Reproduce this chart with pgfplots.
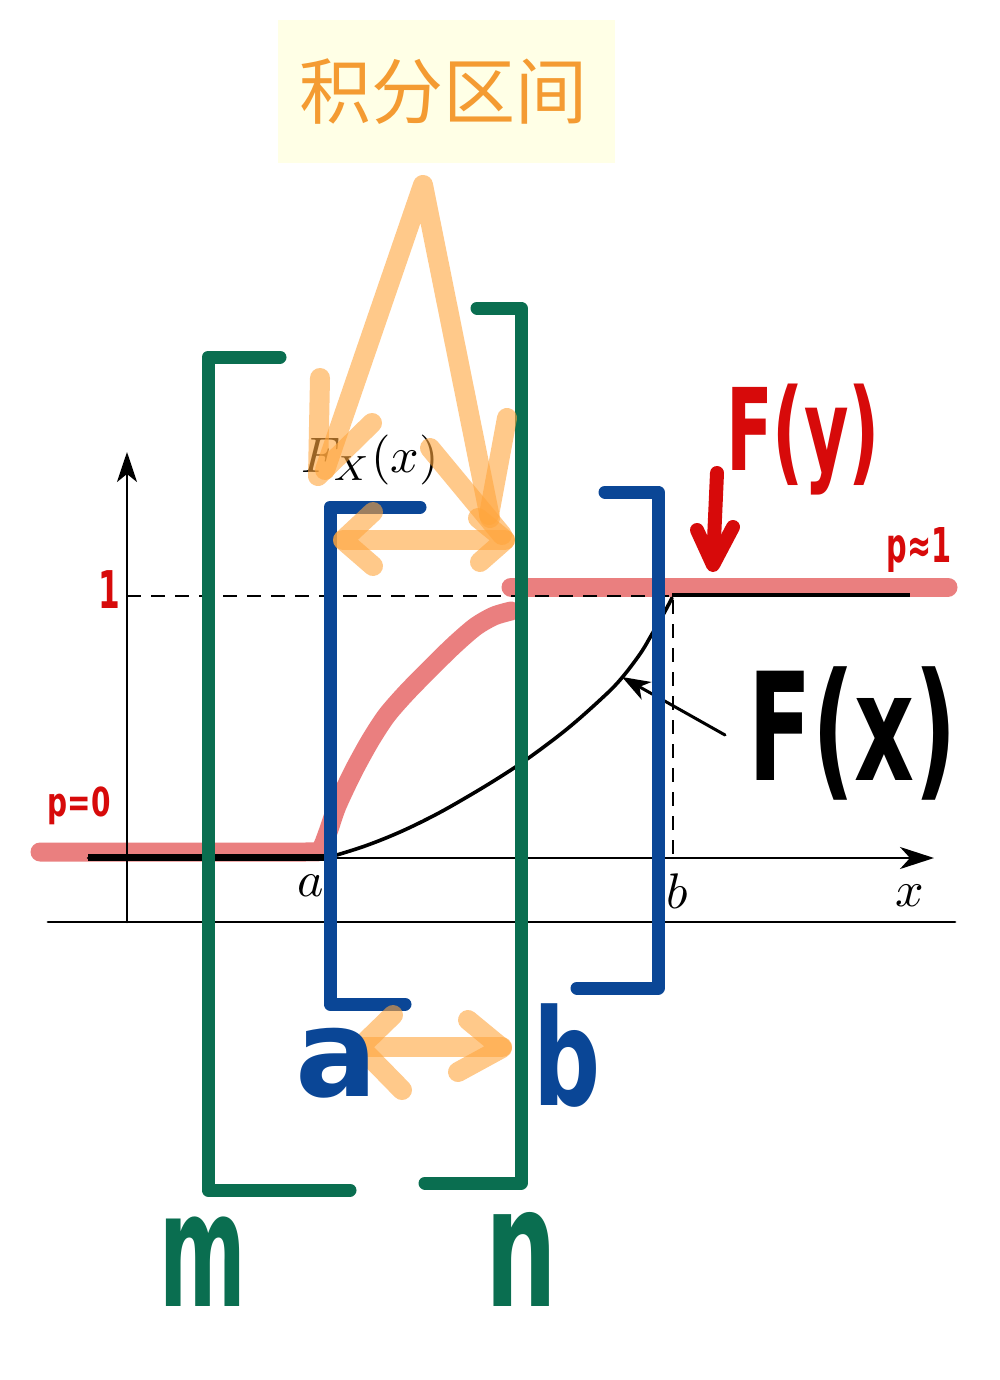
\documentclass[border=0pt]{standalone}
\usepackage{pgfplots}
\pgfplotsset{compat=1.18}
\usetikzlibrary{arrows.meta}
\usepackage{fontspec}
\newfontfamily\cjk{Noto Sans CJK SC}
\newfontfamily\hand{DejaVu Sans}
\definecolor{mgreen}{RGB}{10,110,80}
\definecolor{mblue}{RGB}{10,70,150}
\definecolor{mred}{RGB}{215,10,10}
\definecolor{band}{RGB}{222,50,50}
\definecolor{orng}{RGB}{255,165,60}
\definecolor{ttl}{RGB}{244,155,50}
\definecolor{ttlbg}{RGB}{255,255,230}
\begin{document}
\begin{tikzpicture}
\begin{axis}[width=500pt,height=690pt,scale only axis,
  xmin=0,xmax=1000,ymin=0,ymax=1380,y dir=reverse,
  hide axis,clip=false,no markers,
  every axis plot/.append style={line cap=round,line join=round}]
% background and title box
\addplot[fill=white,draw=none] coordinates {(0,0)(1000,0)(1000,1380)(0,1380)} -- cycle;
\addplot[fill=ttlbg,draw=none] coordinates {(278,20)(615,20)(615,163)(278,163)} -- cycle;
\node[text=ttl,font=\cjk\fontsize{36}{40}\selectfont] at (axis cs:443,92) {积分区间};
% red band F(y)
\addplot[band,opacity=0.62,line width=9.5pt,smooth,tension=0.45] coordinates {(40,852)(180,852)(305,852)(320,850)(328,832)(337,806)(353,772)(370,741)(387,715)(410,689)(450,649)(475,627)(494,616)(511,611)};
\addplot[band,opacity=0.62,line width=9.5pt] coordinates {(511,587)(948,587)};
% base chart
\addplot[black,line width=1.4pt] coordinates {(48,922)(955,922)};
\addplot[black,line width=1.3pt,-{Stealth[length=15pt,width=10pt,inset=4pt]}] coordinates {(127,922)(127,452)};
\addplot[black,line width=1.3pt,-{Stealth[length=17pt,width=11pt,inset=5pt]}] coordinates {(88,858)(934,858)};
\addplot[black,line width=3.5pt,line cap=butt] coordinates {(88,857)(330,857)};
\addplot[black,line width=2pt,line cap=butt] coordinates {(672,595)(910,595)};
\addplot[black,line width=1.4pt,line cap=butt,dash pattern=on 7pt off 5pt] coordinates {(127,596)(672,596)};
\addplot[black,line width=1.4pt,line cap=butt,dash pattern=on 7pt off 5pt] coordinates {(673,600)(673,858)};
\addplot[black,line width=1.8pt,smooth,tension=0.6] coordinates {(330,857)(365,846)(400,832)(435,815)(467,797)(500,777)(530,757)(567,729)(600,700)(620,680)(640,654)(652,634)(663,615)(672,598)};
\addplot[black,line width=1.5pt,-{Stealth[length=14pt,width=10pt,inset=4pt]}] coordinates {(725,735)(622,677)};
% math labels
\node[scale=2.5] at (axis cs:370,460) {$F_X(x)$};
\node[scale=2.5] at (axis cs:311,886) {$a$};
\node[scale=2.5] at (axis cs:677,891) {$b$};
\node[scale=2.5] at (axis cs:910,896) {$x$};
% green brackets
\addplot[mgreen,line width=6.5pt] coordinates {(280,357)(208,357)(208,1190)(350,1190)};
\addplot[mgreen,line width=6.5pt] coordinates {(477,308)(521,308)(521,1183)(425,1183)};
% blue brackets
\addplot[mblue,line width=6.5pt] coordinates {(420,507)(330,507)(330,1004)(405,1004)};
\addplot[mblue,line width=6.5pt] coordinates {(605,492)(658,492)(658,988)(577,988)};
% orange strokes
\addplot[orng,opacity=0.6,line width=10pt] coordinates {(325,470)(423,185)(490,518)};
\addplot[orng,opacity=0.6,line width=10pt] coordinates {(320,378)(318,476)(372,423)};
\addplot[orng,opacity=0.6,line width=10pt] coordinates {(507,418)(489,515)};
\addplot[orng,opacity=0.6,line width=10pt] coordinates {(430,448)(502,535)};
\addplot[orng,opacity=0.6,line width=10pt] coordinates {(373,512)(343,540)(373,566)};
\addplot[orng,opacity=0.6,line width=10pt] coordinates {(343,540)(505,540)};
\addplot[orng,opacity=0.6,line width=10pt] coordinates {(478,518)(505,540)(480,562)};
\addplot[orng,opacity=0.6,line width=10pt] coordinates {(393,1015)(360,1047)(402,1090)};
\addplot[orng,opacity=0.6,line width=10pt] coordinates {(360,1047)(502,1047)};
\addplot[orng,opacity=0.6,line width=10pt] coordinates {(468,1020)(502,1048)(458,1072)};
% red hand arrow
\addplot[mred,line width=7pt] coordinates {(717,473)(713,563)};
\addplot[mred,line width=7pt] coordinates {(697,530)(713,565)(733,527)};
% handwritten labels
\node[text=mred,font=\hand\bfseries\fontsize{57}{60}\selectfont,xscale=0.6] at (axis cs:803,440) {F(y)};
\node[text=black,font=\hand\bfseries\fontsize{75}{80}\selectfont,xscale=0.62] at (axis cs:853,733) {F(x)};
\node[text=mred,font=\hand\bfseries\fontsize{20}{24}\selectfont,xscale=0.7] at (axis cs:79,806) {p=0};
\node[text=mred,font=\hand\bfseries\fontsize{24}{28}\selectfont,xscale=0.6] at (axis cs:919,550) {p≈1};
\node[text=mred,font=\hand\bfseries\fontsize{26}{28}\selectfont,xscale=0.6] at (axis cs:109,590) {1};
\node[text=mgreen,font=\hand\bfseries\fontsize{80}{84}\selectfont,xscale=0.52] at (axis cs:203,1262) {m};
\node[text=mgreen,font=\hand\bfseries\fontsize{84}{88}\selectfont,xscale=0.6] at (axis cs:521,1259) {n};
\node[text=mblue,font=\hand\bfseries\fontsize{61}{64}\selectfont] at (axis cs:337,1063) {a};
\node[text=mblue,font=\hand\bfseries\fontsize{67}{70}\selectfont,xscale=0.7] at (axis cs:567,1056) {b};
\end{axis}
\end{tikzpicture}
\end{document}
